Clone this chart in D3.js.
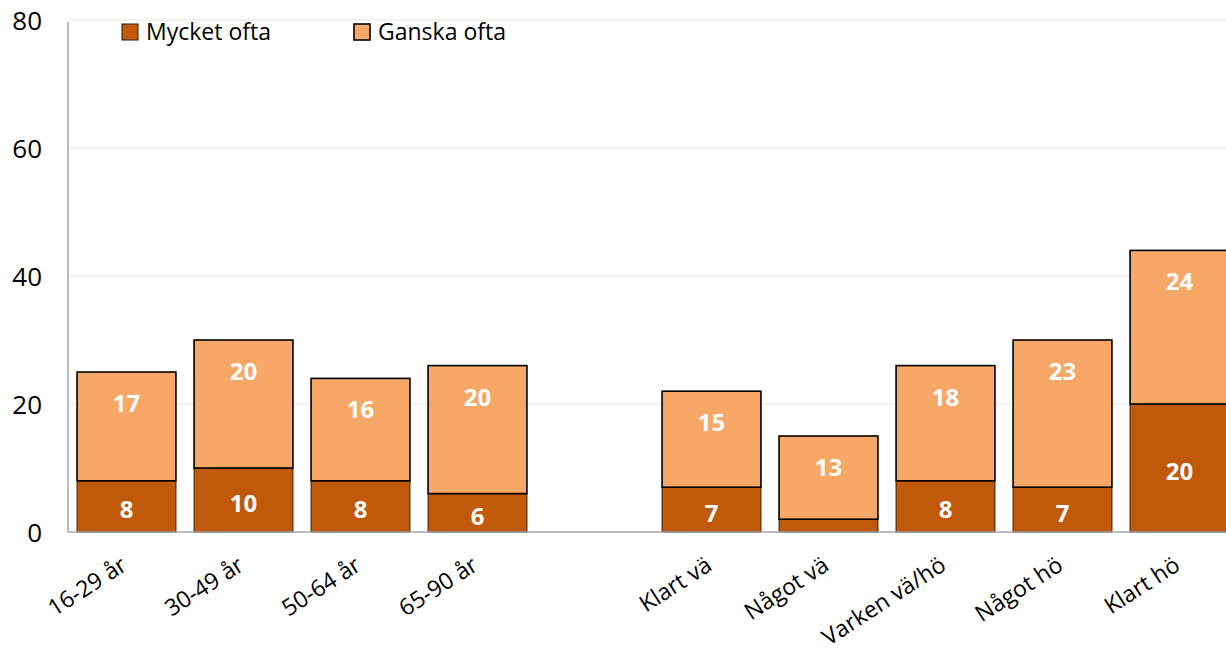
<!DOCTYPE html>
<html>
<head>
<meta charset="utf-8">
<script src="https://cdn.jsdelivr.net/npm/d3@7"></script>
<style>
  body { margin: 0; background: #fff; }
  svg text { font-family: "Open Sans", Lato, sans-serif; }
</style>
</head>
<body>
<svg width="1226" height="654"></svg>
<script>
// Data

const categories = ["16-29 år", "30-49 år", "50-64 år", "65-90 år", "",
    "Klart vä", "Något vä", "Varken vä/hö", "Något hö", "Klart hö"];
const mycketOfta = [8, 10, 8, 6, null, 7, 2, 8, 7, 20];
const ganskaOfta = [17, 20, 16, 20, null, 15, 13, 18, 23, 24];
const seriesNames = ["Mycket ofta", "Ganska ofta"];
const colors = ["#C05A0A", "#F7A866"];
const yTicks = [0, 20, 40, 60, 80];

// Layout

const svg = d3.select("svg");
const plotLeft = 68, plotTop = 20, plotBottom = 532, plotRight = 1238;

const x = d3.scaleBand()
    .domain(d3.range(categories.length))
    .range([plotLeft, plotRight])
    .paddingInner(0.155)
    .paddingOuter(0.0775);

const y = d3.scaleLinear()
    .domain([0, 80])
    .range([plotBottom, plotTop]);

// grid
svg.append("g").selectAll("line")
    .data(yTicks.filter(d => d > 0))
    .enter().append("line")
    .attr("x1", plotLeft).attr("x2", 1226)
    .attr("y1", d => y(d)).attr("y2", d => y(d))
    .attr("stroke", "#efefe9").attr("stroke-width", 1.3);

// y tick labels
svg.append("g").selectAll("text")
    .data(yTicks)
    .enter().append("text")
    .attr("x", 42)
    .attr("y", d => y(d) + 9.5)
    .attr("text-anchor", "end")
    .attr("font-size", 26)
    .attr("fill", "#000")
    .text(d => d);

// stacked bars
const rows = categories.map((c, i) => ({ i: i, m: mycketOfta[i], g: ganskaOfta[i] }))
    .filter(d => d.m != null);

const stack = d3.stack().keys(["m", "g"]);
const layers = stack(rows);

const barG = svg.append("g");
layers.forEach((layer, li) => {
    barG.selectAll(null)
        .data(layer)
        .enter().append("rect")
        .attr("x", d => x(d.data.i))
        .attr("width", x.bandwidth())
        .attr("y", d => y(d[1]))
        .attr("height", d => y(d[0]) - y(d[1]))
        .attr("fill", colors[li])
        .attr("stroke", li === 0 ? "#3a1a02" : "#000")
        .attr("stroke-width", li === 0 ? 1 : 1.6);
});

// value labels: dark segment centred, light segment near its top
layers.forEach((layer, li) => {
    barG.selectAll(null)
        .data(layer.filter(d => d[1] - d[0] >= 5))
        .enter().append("text")
        .attr("x", d => x(d.data.i) + x.bandwidth() / 2)
        .attr("y", d => (li === 0 ? (y(d[0]) + y(d[1])) / 2 + 3 : y(d[1]) + 31) + 9)
        .attr("text-anchor", "middle")
        .attr("font-size", 24)
        .attr("font-weight", "bold")
        .attr("fill", "#fff")
        .text(d => d[1] - d[0]);
});

// axes lines
svg.append("line")
    .attr("x1", plotLeft).attr("x2", plotLeft)
    .attr("y1", plotTop + 2).attr("y2", plotBottom)
    .attr("stroke", "#a6a6a6").attr("stroke-width", 1.5);
svg.append("line")
    .attr("x1", plotLeft).attr("x2", 1226)
    .attr("y1", plotBottom).attr("y2", plotBottom)
    .attr("stroke", "#a6a6a6").attr("stroke-width", 1.5);

// x labels
svg.append("g").selectAll("text")
    .data(categories.map((c, i) => ({ c, i })).filter(d => d.c))
    .enter().append("text")
    .attr("transform", d => `translate(${x(d.i) + x.bandwidth() / 2 + 2},${plotBottom + 37}) rotate(-33)`)
    .attr("text-anchor", "end")
    .attr("font-size", 23)
    .attr("fill", "#000")
    .text(d => d.c);

// legend
const legend = svg.append("g");
const legendX = [122, 354];
seriesNames.forEach((name, i) => {
    legend.append("rect")
        .attr("x", legendX[i]).attr("y", 24)
        .attr("width", 16).attr("height", 16)
        .attr("fill", colors[i])
        .attr("stroke", i === 0 ? "#3a1a02" : "#000")
        .attr("stroke-width", i === 0 ? 1 : 1.6);
    legend.append("text")
        .attr("x", legendX[i] + 24).attr("y", 40)
        .attr("font-size", 23)
        .attr("fill", "#000")
        .text(name);
});
</script>
</body>
</html>
